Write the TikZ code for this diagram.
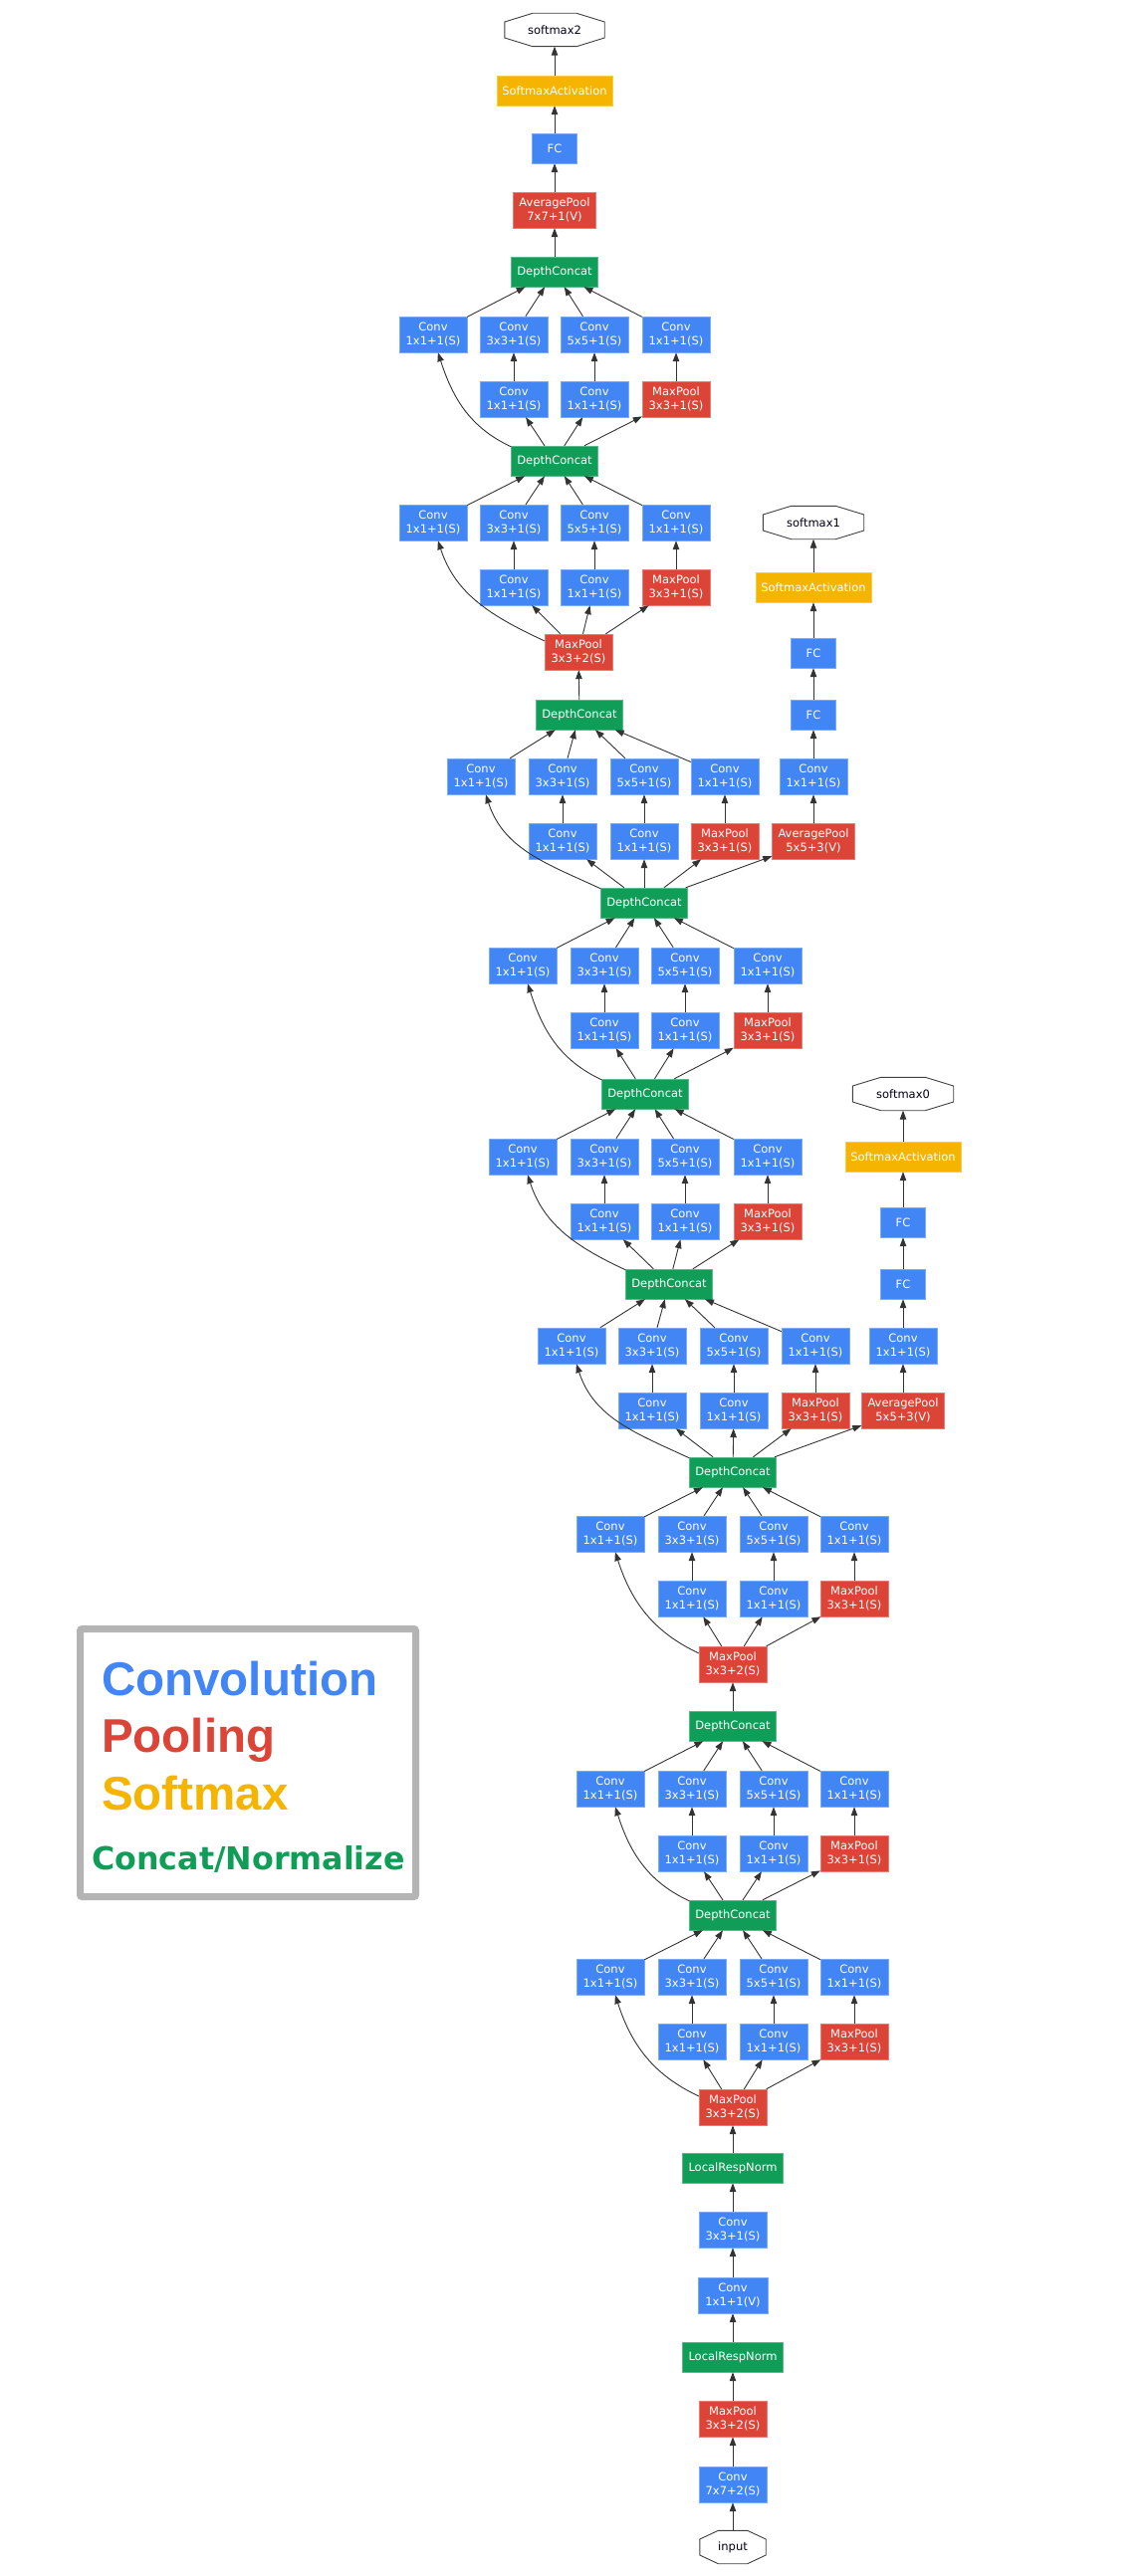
\documentclass[tikz,border=0pt]{standalone}
\usepackage{fontspec}
\setmainfont{DejaVu Sans}
\newfontfamily\legendfont{Liberation Sans}
\usetikzlibrary{arrows.meta,calc,positioning}
\definecolor{gblue}{HTML}{4285F4}
\definecolor{gred}{HTML}{DB4437}
\definecolor{gyellow}{HTML}{F4B400}
\definecolor{ggreen}{HTML}{0F9D58}
\definecolor{lgray}{HTML}{B4B4B4}
\tikzset{
  box/.style={inner sep=0pt, align=center, text=white, font=\fontsize{11.5}{14}\selectfont, minimum height=36pt},
  conv/.style={box, fill=gblue, draw=gblue!70!white, minimum width=68pt},
  pool/.style={box, fill=gred, draw=gred!70!white, minimum width=68pt},
  avgpool/.style={pool, minimum width=83pt},
  concat/.style={box, fill=ggreen, draw=ggreen!70!white, minimum width=87pt, minimum height=30pt},
  lrn/.style={concat, minimum width=101pt},
  fc/.style={conv, minimum width=45pt, minimum height=30pt},
  smact/.style={box, fill=gyellow, draw=gyellow!70!white, minimum width=116pt, minimum height=30pt},
  octo/.style={inner sep=0pt, font=\fontsize{11.5}{14}\selectfont, text=black!90!blue, minimum width=101pt, minimum height=33pt},
  octline/.style={draw=black!75, line width=0.9pt},
  edge/.style={draw=black!80, line width=0.9pt, -{Triangle[length=9pt,width=6.5pt]}},
}
\begin{document}
\begin{tikzpicture}[x=1pt,y=1pt]
  \fill[white] (0,0) rectangle (1152,-2588);
  \useasboundingbox (0,0) rectangle (1152,-2588);
  % stem
  \node[octo, minimum width=66pt] (in) at (736,-2559) {input};
  \node[conv] (c7) at (736,-2496) {Conv\\7x7+2(S)};
  \node[pool] (mp1) at (736,-2430) {MaxPool\\3x3+2(S)};
  \node[lrn] (lrn1) at (736,-2368) {LocalRespNorm};
  \node[conv, minimum width=70pt] (c1v) at (736,-2306) {Conv\\1x1+1(V)};
  \node[conv] (c3) at (736,-2240) {Conv\\3x3+1(S)};
  \node[lrn] (lrn2) at (736,-2178) {LocalRespNorm};
  \node[pool] (mp2) at (736,-2117) {MaxPool\\3x3+2(S)};
  % concat spine
  \node[concat] (dc3a) at (736,-1924) {DepthConcat};
  \node[concat] (dc3b) at (736,-1734) {DepthConcat};
  \node[pool] (mp3) at (736,-1672) {MaxPool\\3x3+2(S)};
  \node[concat] (dc4a) at (736,-1479) {DepthConcat};
  \node[concat] (dc4b) at (672,-1290) {DepthConcat};
  \node[concat] (dc4c) at (648,-1099) {DepthConcat};
  \node[concat] (dc4d) at (647,-907) {DepthConcat};
  \node[concat] (dc4e) at (582,-718) {DepthConcat};
  \node[pool] (mp4) at (581,-655) {MaxPool\\3x3+2(S)};
  \node[concat] (dc5a) at (557,-463) {DepthConcat};
  \node[concat] (dc5b) at (557,-273) {DepthConcat};
  % head
  \node[avgpool] (avg2) at (557,-211) {AveragePool\\7x7+1(V)};
  \node[fc] (fc2) at (557,-149) {FC};
  \node[smact] (sa2) at (557,-91) {SoftmaxActivation};
  \node[octo, minimum width=100pt] (sm2) at (557,-30) {softmax2};
  % auxiliary heads
  \node[avgpool] (avg0) at (907,-1417) {AveragePool\\5x5+3(V)};
  \node[conv] (cv0) at (907,-1352) {Conv\\1x1+1(S)};
  \node[fc] (fc0a) at (907,-1290) {FC};
  \node[fc] (fc0b) at (907,-1228) {FC};
  \node[smact] (sa0) at (907,-1162) {SoftmaxActivation};
  \node[octo] (sm0) at (907,-1099) {softmax0};
  \node[avgpool] (avg1) at (817,-845) {AveragePool\\5x5+3(V)};
  \node[conv] (cv1) at (817,-780) {Conv\\1x1+1(S)};
  \node[fc] (fc1a) at (817,-718) {FC};
  \node[fc] (fc1b) at (817,-656) {FC};
  \node[smact] (sa1) at (817,-590) {SoftmaxActivation};
  \node[octo] (sm1) at (817,-525) {softmax1};
  \foreach \o in {in,sm0,sm1,sm2}
    \draw[octline] ([yshift=8pt]\o.west) -- ($(\o.north west)!.28!(\o.north east)$)
      -- ($(\o.north west)!.72!(\o.north east)$) -- ([yshift=8pt]\o.east)
      -- ([yshift=-8pt]\o.east) -- ($(\o.south west)!.72!(\o.south east)$)
      -- ($(\o.south west)!.28!(\o.south east)$) -- ([yshift=-8pt]\o.west) -- cycle;
  \foreach \a/\b in {in/c7,c7/mp1,mp1/lrn1,lrn1/c1v,c1v/c3,c3/lrn2,lrn2/mp2,dc3b/mp3,
      dc4e/mp4,dc5b/avg2,avg2/fc2,fc2/sa2,sa2/sm2,dc4a/avg0,avg0/cv0,cv0/fc0a,fc0a/fc0b,
      fc0b/sa0,sa0/sm0,dc4d/avg1,avg1/cv1,cv1/fc1a,fc1a/fc1b,fc1b/sa1,sa1/sm1}
    \draw[edge] (\a) -- (\b);
  % inception modules
  \foreach \m/\src/\dst/\xa/\xb/\xc/\xd/\y in {3a/mp2/dc3a/613/695/777/858/1986,
      3b/dc3a/dc3b/613/695/777/858/1797, 4a/mp3/dc4a/613/695/777/858/1541,
      4b/dc4a/dc4b/574/655/737/819/1352, 4c/dc4b/dc4c/525/607/688/771/1162,
      4d/dc4c/dc4d/525/607/688/771/970, 4e/dc4d/dc4e/483/565/647/728/780,
      5a/mp4/dc5a/435/516/597/679/525, 5b/dc5a/dc5b/435/516/597/679/336}
  {
    \node[conv] (i\m-a) at (\xa,-\y) {Conv\\1x1+1(S)};
    \node[conv] (i\m-b) at (\xb,-\y) {Conv\\3x3+1(S)};
    \node[conv] (i\m-c) at (\xc,-\y) {Conv\\5x5+1(S)};
    \node[conv] (i\m-d) at (\xd,-\y) {Conv\\1x1+1(S)};
    \node[conv] (i\m-rb) at (\xb,-\y-65) {Conv\\1x1+1(S)};
    \node[conv] (i\m-rc) at (\xc,-\y-65) {Conv\\1x1+1(S)};
    \node[pool] (i\m-rd) at (\xd,-\y-65) {MaxPool\\3x3+1(S)};
    \draw[edge] (\src.162) to[out=155,in=-72] (i\m-a.-75);
    \foreach \r in {b,c,d} {
      \draw[edge] (\src) -- (i\m-r\r);
      \draw[edge] (i\m-r\r) -- (i\m-\r);
    }
    \foreach \r in {a,b,c,d}
      \draw[edge] (i\m-\r) -- (\dst);
  }
  % legend
  \draw[lgray, line width=7pt, rounded corners=2pt] (80.5,-1636.5) rectangle (417.5,-1905.5);
  \node[anchor=base west, inner sep=0pt, text=gblue, font=\legendfont\bfseries\fontsize{47.5}{50}\selectfont] (lconv) at (102,-1703) {Convolution};
  \node[anchor=base west, inner sep=0pt, text=gred, font=\legendfont\bfseries\fontsize{47.5}{50}\selectfont] (lpool) at (102,-1760) {Pooling};
  \node[anchor=base west, inner sep=0pt, text=gyellow, font=\legendfont\bfseries\fontsize{47.5}{50}\selectfont] (lsoft) at (102,-1818) {Softmax};
  \node[anchor=base west, inner sep=0pt, text=ggreen, font=\bfseries\fontsize{31.7}{34}\selectfont] (lcat) at (92,-1878) {Concat/Normalize};
\end{tikzpicture}
\end{document}
